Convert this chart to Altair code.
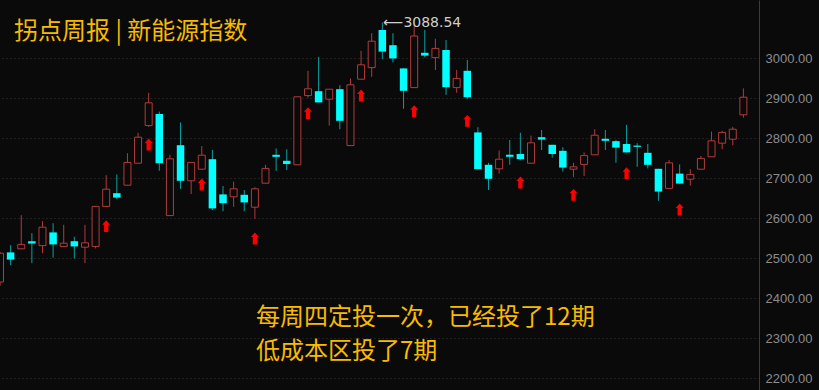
import altair as alt
import pandas as pd

# ---- data (weekly candles) ----
opens = [2440, 2514, 2523, 2542, 2531, 2564, 2529, 2542, 2527, 2529,
         2629, 2662, 2682, 2737, 2831, 2860, 2606, 2782, 2693, 2722,
         2747, 2659, 2653, 2658, 2627, 2687, 2758, 2743, 2733, 2906,
         2917, 2897, 2922, 2781, 2947, 2976, 3070, 3032, 2974, 2926,
         3013, 3001, 3020, 2926, 2968, 2814, 2733, 2723, 2758, 2760,
         2737, 2802, 2783, 2768, 2722, 2734, 2758, 2798, 2792, 2785,
         2781, 2763, 2723, 2674, 2711, 2697, 2722, 2753, 2787, 2797,
         2858]
closes = [2512, 2496, 2534, 2536, 2577, 2534, 2537, 2529, 2538, 2629,
          2672, 2651, 2739, 2802, 2888, 2737, 2748, 2693, 2739, 2757,
          2624, 2637, 2673, 2639, 2673, 2724, 2753, 2735, 2903, 2923,
          2889, 2922, 2843, 2933, 2983, 3042, 3016, 2999, 2918, 3055,
          3006, 3024, 2927, 2949, 2902, 2722, 2698, 2747, 2753, 2747,
          2788, 2796, 2760, 2726, 2728, 2756, 2807, 2793, 2776, 2764,
          2778, 2733, 2666, 2738, 2686, 2709, 2749, 2793, 2814, 2822,
          2902]
highs = [2515, 2532, 2607, 2562, 2592, 2587, 2583, 2553, 2583, 2629,
         2707, 2709, 2762, 2813, 2913, 2866, 2758, 2839, 2739, 2780,
         2770, 2680, 2691, 2670, 2677, 2733, 2774, 2772, 2903, 2968,
         3003, 2922, 2932, 2949, 3018, 3062, 3088.54, 3062, 2974, 3084,
         3070, 3048, 3045, 2970, 2995, 2827, 2738, 2769, 2795, 2813,
         2806, 2820, 2783, 2777, 2738, 2764, 2822, 2820, 2795, 2833,
         2787, 2785, 2723, 2745, 2734, 2722, 2755, 2816, 2818, 2828,
         2924]
lows = [2430, 2482, 2522, 2487, 2512, 2501, 2529, 2499, 2487, 2524,
        2629, 2647, 2682, 2737, 2828, 2718, 2606, 2673, 2660, 2722,
        2620, 2617, 2628, 2617, 2598, 2687, 2718, 2720, 2733, 2901,
        2889, 2831, 2822, 2781, 2947, 2953, 2997, 2989, 2873, 2926,
        3001, 2970, 2908, 2913, 2897, 2722, 2670, 2711, 2733, 2744,
        2737, 2770, 2751, 2716, 2702, 2705, 2758, 2770, 2738, 2764,
        2728, 2724, 2643, 2674, 2686, 2681, 2722, 2753, 2772, 2782,
        2851]

# buy markers (week index and price level of the arrow)
arrow_idx = [10, 14, 19, 24, 29, 34, 39, 44, 49, 54, 59, 64]
arrow_lv = [2579.5, 2783.8, 2683.8, 2548.8, 2862, 2906.3, 2867, 2843,
            2688.8, 2658, 2712, 2621.3]

y_ticks = [2200, 2300, 2400, 2500, 2600, 2700, 2800, 2900, 3000]
peak_idx = 36
peak_val = 3088.54

title_text = "拐点周报 | 新能源指数"
note_line1 = "每周四定投一次，已经投了12期"
note_line2 = "低成本区投了7期"

# ---- styling ----
BG = "#0a0a0a"
RED = "#b23b3b"
CYAN = "#00ffff"
CYAN_WICK = "#08a0a0"
GOLD = "#f8bb00"

df = pd.DataFrame({"i": list(range(len(opens))), "open": opens, "close": closes,
                   "high": highs, "low": lows})
df["top"] = df[["open", "close"]].max(axis=1)
df["bot"] = df[["open", "close"]].min(axis=1)
df["dir"] = ["up" if c >= o else "down" for o, c in zip(opens, closes)]

arrows = pd.DataFrame({"i": arrow_idx, "lv": arrow_lv})
peak = pd.DataFrame({"i": [peak_idx], "v": [peak_val], "t": ["\u27f5" + f"{peak_val:.2f}"]})

xscale = alt.Scale(domain=[0, 71.47], nice=False, zero=False, padding=0)
yscale = alt.Scale(domain=[2170, 3145], nice=False, zero=False, padding=0)
yaxis = alt.Axis(orient="right", values=y_ticks, format=".2f", title=None,
                 labelColor="#8c8c8c", labelFontSize=13, labelFont="Liberation Sans",
                 labelPadding=6, ticks=False, domain=True, domainColor="#3c3c3c",
                 grid=True, gridColor="#363636", gridDash=[1, 3], gridWidth=1)

X = alt.X("i:Q", scale=xscale, axis=None)


def Y(field):
    return alt.Y(f"{field}:Q", scale=yscale, axis=yaxis)


wicks = alt.Chart(df).mark_rule(strokeWidth=1, clip=True).encode(
    x=X, y=Y("low"), y2="high:Q",
    color=alt.Color("dir:N", scale=alt.Scale(domain=["up", "down"], range=[RED, CYAN_WICK]),
                    legend=None),
)

up_body = alt.Chart(df).transform_filter(alt.datum.dir == "up").mark_bar(
    size=7, fill=BG, stroke=RED, strokeWidth=1, clip=True
).encode(x=X, y=Y("bot"), y2="top:Q")

down_body = alt.Chart(df).transform_filter(alt.datum.dir == "down").mark_bar(
    size=7.5, color=CYAN, clip=True
).encode(x=X, y=Y("bot"), y2="top:Q")

arrow_path = "M0,-1L0.68,-0.25L0.36,-0.25L0.36,1L-0.36,1L-0.36,-0.25L-0.68,-0.25Z"
arrow_marks = alt.Chart(arrows).mark_point(
    shape=arrow_path, filled=True, size=140, color="#ff0000", opacity=1, strokeWidth=0
).encode(x=X, y=Y("lv"))

peak_label = alt.Chart(peak).mark_text(
    align="left", baseline="middle", dx=1, fontSize=14, color="#cfcfcf",
    font="DejaVu Sans"
).encode(x=X, y=Y("v"), text="t:N")

title_mark = alt.Chart(pd.DataFrame({"t": [title_text]})).mark_text(
    align="left", baseline="middle", fontSize=24, font="Noto Sans CJK SC", color=GOLD
).encode(x=alt.value(14), y=alt.value(32), text="t:N")

note1 = alt.Chart(pd.DataFrame({"t": [note_line1]})).mark_text(
    align="left", baseline="middle", fontSize=24, font="Noto Sans CJK SC", color=GOLD
).encode(x=alt.value(256), y=alt.value(318), text="t:N")

note2 = alt.Chart(pd.DataFrame({"t": [note_line2]})).mark_text(
    align="left", baseline="middle", fontSize=24, font="Noto Sans CJK SC", color=GOLD
).encode(x=alt.value(256), y=alt.value(352), text="t:N")

chart = alt.layer(
    wicks, up_body, down_body, arrow_marks, peak_label, title_mark, note1, note2
).properties(
    width=759, height=390, background=BG, autosize="none",
    padding={"left": 0, "top": 0, "right": 60, "bottom": 0},
).configure_view(stroke=None)

chart.save("out.html", embed_options={"renderer": "svg", "actions": False})
